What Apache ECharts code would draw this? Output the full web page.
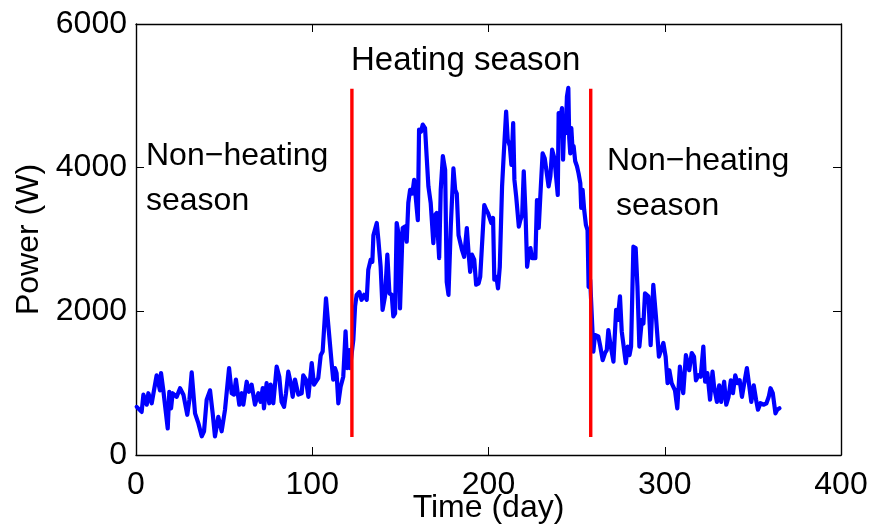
<!DOCTYPE html>
<html>
<head>
<meta charset="utf-8">
<script src="https://cdn.jsdelivr.net/npm/echarts@6/dist/echarts.min.js"></script>
<style>
html,body{margin:0;padding:0;background:#fff;}
#chart{width:870px;height:532px;}
</style>
</head>
<body>
<div id="chart"></div>
<script>
// Day of year for each sample
var days = [
0.4,3.2,4.2,6.1,7,8.9,11.7,13.6,14.2,15.5,18,18.9,19.9,20.8,23.1,25,26.9,27.8,29.1,30.3,31.6,33.5,35.4,37.3,38.6,40.1,42,43.5,44.8,46.7,48.6,50.5,52.8,54.3,55.6,56.7,58.6,60,60.9,62.8,64.1,65.6,67.5,69.4,70.7,71.9,72.6,74.1,75.6,76.4,77.9,79.8,81.3,82.6,84,85.1,86.4,87.8,88.9,90.2,92.1,94,94.9,96.4,97.8,99.7,101,103.4,104.8,105.9,107.8,109.1,111,111.9,112.9,113.8,114.8,116.1,117.6,118.9,119.9,121,121.4,123.3,
124.3,125.2,126.7,128,129.4,130.9,131.8,133.2,134.1,134.7,135.6,136.6,137.5,138.8,139.9,141.3,142.6,143.8,145.1,146,147,147.9,148.9,149.8,151.3,152.6,153.6,154.5,155.5,156.8,157.8,158.9,159.9,160.6,161.7,162.7,164,164.9,165.9,167.2,168.7,169.7,170.6,172,172.9,174.1,175.4,176.3,177.3,178.6,180.1,181.1,182,183,183.9,184.9,186.2,187.7,188.7,189.6,190.6,191.9,193,194.4,195.3,196.3,197.6,198.8,199.7,200.7,201.6,202.6,203.3,204.5,205.4,206.4,207.7,208.6,210,210.9,212.1,213,214,214.7,215.7,217.2,218.1,219.1,220,221,221.9,222.9,223.8,224.7,225.7,226.6,227.5,228.5,229.4,230.7,231.9,232.8,234.1,235.1,236.1,237.4,238.5,239.3,239.8,240.8,241.7,242.3,243,243.8,244.5,245.3,245.8,246.4,247,247.7,248.3,249.2,250.2,251.1,252.1,252.6,253.4,254.3,255.3,256.2,256.8,257.7,
259.5,260.4,262.3,263.3,264.8,266.1,267.1,268,269.4,270.9,272.4,273.3,274.6,275.6,276.5,277.9,279,280,280.9,282.2,283.5,284.5,285.6,287,287.9,288.8,290.7,292,293.5,295,296.7,297.9,299.2,300.5,301.6,302.6,303.9,305.8,307.1,308.6,309.6,310.5,312,313,313.9,315.3,316.6,317.7,319.1,320.4,321.9,322.9,324.2,325.7,327.1,328,329.6,330.9,332,333.7,334.9,336.2,337.5,338.7,340,341.3,342.5,343.8,345.1,346.6,348,349.1,350.5,351.8,352.9,354.3,356.2,357.7,359,360,361.3,362.8,363.8,365.1
];
// Power (W) for each sample
var power = [
670,600,840,700,860,720,1110,900,1140,900,370,880,650,860,810,930,840,860,560,770,1150,580,440,260,330,770,900,580,260,530,330,630,1210,860,840,1050,700,860,700,1020,880,980,700,860,740,930,650,1000,720,980,720,1230,1090,740,670,860,1160,1000,810,1050,840,860,1110,1050,810,1280,980,1070,1390,1440,2180,1810,1280,1050,1210,1140,720,950,1090,1720,1210,1460,1210,1600,
2070,2230,2270,2160,2230,2160,2580,2720,2690,3060,3040,3230,3000,2620,2020,2210,2790,2250,2230,1930,1970,3230,3090,2040,3160,3180,2970,3510,3690,3640,3830,3850,3270,4530,4500,4600,4550,4160,3740,3510,2950,3340,3370,2740,3690,4160,3970,2410,2230,3180,3990,3690,3640,3060,3040,2860,2760,3160,2810,2550,2790,2720,2370,2390,2480,2480,3480,3410,3370,3390,3230,3300,2440,2480,2320,2620,3740,4160,4780,4390,4300,4040,4620,3830,3600,3180,3270,3340,3950,3370,2620,2810,2880,2740,2760,2740,3550,3160,3600,4200,4130,4110,3740,3880,4250,4130,4110,3620,4760,4690,4830,4110,4620,4480,4990,5110,4410,4200,4550,4250,4300,4090,4020,3920,3780,3440,3690,3410,3200,3130,2340,2440,
1440,1670,1650,1530,1320,1420,1460,1740,1510,1300,2020,1880,2210,1720,1700,1280,1510,1390,1510,2900,2880,2350,1510,1880,1830,2250,2210,1530,2370,1930,1370,1460,1560,1370,1000,1180,1000,900,650,1230,1000,860,1390,1280,1180,1420,1370,1040,1110,1090,1510,1020,1140,770,1160,950,740,970,740,1020,700,810,1040,860,1110,1000,1040,810,1000,1210,950,740,970,770,630,720,700,720,810,930,860,580,630,650
];
// Season boundaries (day) and the power range the boundary lines span
var seasonBounds = [122.5, 258];
var boundRange = [250, 5100];
// Axis ticks
var xTicks = {min: 0, max: 400, interval: 100};
var yTicks = {min: 0, max: 6000, interval: 2000};

var FONT = 'Liberation Sans, Arial, Helvetica, sans-serif';
var lineData = days.map(function (d, i) { return [d, power[i]]; });

var series = [{
  type: 'line', data: lineData, symbol: 'none', smooth: false,
  lineStyle: {color: '#0000ff', width: 4.2, cap: 'round', join: 'round'}, z: 3, animation: false
}];
seasonBounds.forEach(function (b) {
  series.push({
    type: 'line', data: [[b, boundRange[0]], [b, boundRange[1]]], symbol: 'none',
    lineStyle: {color: '#ff0000', width: 3.4}, z: 4, animation: false
  });
});

function axisCommon() {
  return {
    type: 'value', splitLine: {show: false},
    axisLine: {show: true, onZero: false, lineStyle: {color: '#000', width: 1.4}},
    axisTick: {show: true, inside: true, length: 8, lineStyle: {color: '#000', width: 1}}
  };
}
function plain(v) { return String(v); }

var chart = echarts.init(document.getElementById('chart'), null, {renderer: 'canvas'});
chart.setOption({
  animation: false,
  backgroundColor: '#fff',
  grid: {left: 136, right: 29, top: 24, bottom: 77, containLabel: false, outerBoundsMode: 'none'},
  xAxis: [
    Object.assign(axisCommon(), {
      position: 'bottom', min: xTicks.min, max: xTicks.max, interval: xTicks.interval,
      axisLabel: {color: '#000', fontSize: 32, fontFamily: FONT, margin: 14, formatter: plain},
      name: 'Time (day)', nameLocation: 'middle', nameGap: 37, nameMoveOverlap: false,
      nameTextStyle: {color: '#000', fontSize: 32, fontFamily: FONT}
    }),
    Object.assign(axisCommon(), {
      position: 'top', min: xTicks.min, max: xTicks.max, interval: xTicks.interval,
      axisLabel: {show: false}
    })
  ],
  yAxis: [
    Object.assign(axisCommon(), {
      position: 'left', min: yTicks.min, max: yTicks.max, interval: yTicks.interval,
      axisLabel: {color: '#000', fontSize: 32, fontFamily: FONT, margin: 9, formatter: plain},
      name: 'Power (W)', nameLocation: 'middle', nameGap: 91, nameMoveOverlap: false,
      nameTextStyle: {color: '#000', fontSize: 32, fontFamily: FONT}
    }),
    Object.assign(axisCommon(), {
      position: 'right', min: yTicks.min, max: yTicks.max, interval: yTicks.interval,
      axisLabel: {show: false}
    })
  ],
  series: series,
  graphic: [
    {type: 'text', left: 351, top: 44, style: {text: 'Heating season', fill: '#000', font: '33px ' + FONT}},
    {type: 'text', left: 146, top: 140, style: {text: 'Non\u2212heating', fill: '#000', font: '32px ' + FONT}},
    {type: 'text', left: 146, top: 185, style: {text: 'season', fill: '#000', font: '32px ' + FONT}},
    {type: 'text', left: 607, top: 145, style: {text: 'Non\u2212heating', fill: '#000', font: '32px ' + FONT}},
    {type: 'text', left: 616, top: 190, style: {text: 'season', fill: '#000', font: '32px ' + FONT}}
  ]
});
</script>
</body>
</html>
